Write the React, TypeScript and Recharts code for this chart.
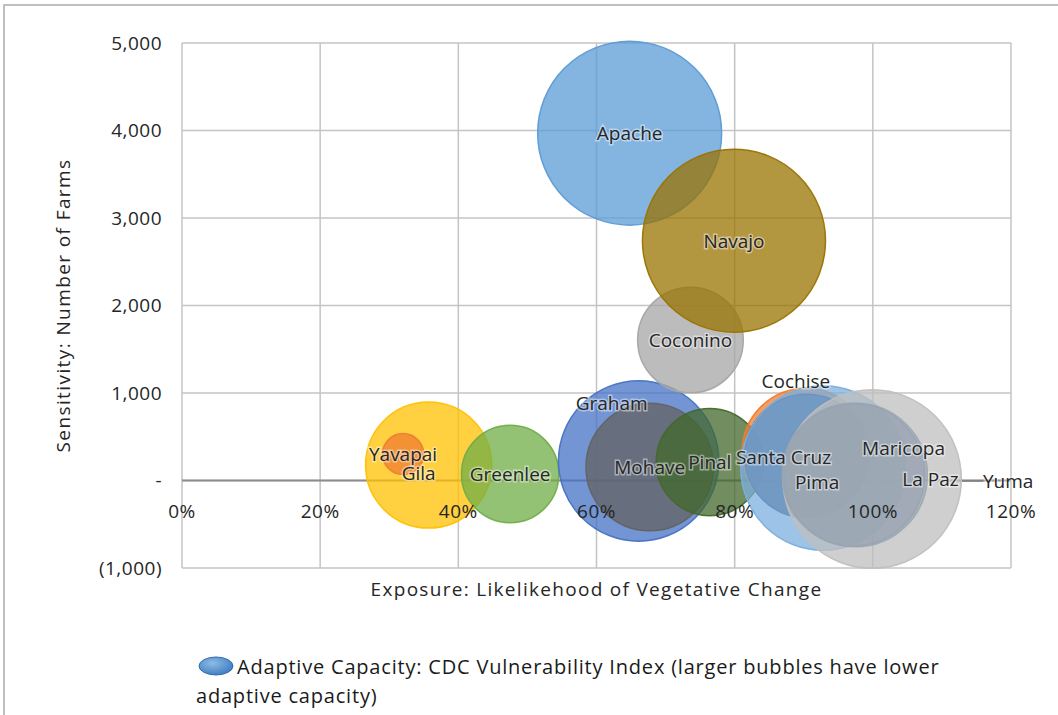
import {
  ScatterChart,
  Scatter,
  XAxis,
  YAxis,
  ZAxis,
  CartesianGrid,
  ReferenceLine,
  Cell,
  LabelList,
} from "recharts";

// drawing order matters: later bubbles sit on top
const counties = [
  "Apache", "Gila", "Yavapai", "Greenlee", "Graham", "Mohave", "Coconino", "Navajo",
  "Pinal", "Cochise", "Santa Cruz", "Pima", "Yuma", "La Paz", "Maricopa",
];
const exposure = [0.648, 0.357, 0.32, 0.475, 0.661, 0.677, 0.736, 0.799, 0.764, 0.903, 0.904, 0.928, 0.999, 0.972, 0.975];
const farms = [3970, 177, 303, 74, 223, 154, 1606, 2740, 211, 326, 280, 143, 17, 66, 63];
const vulnerability = [1.0, 0.47, 0.05, 0.28, 0.76, 0.48, 0.33, 0.99, 0.34, 0.48, 0.45, 0.8, 0.94, 0.6, 0.61];

const xTicks = [0, 0.2, 0.4, 0.6, 0.8, 1.0, 1.2];
const yTicks = [-1000, 0, 1000, 2000, 3000, 4000, 5000];

const COLORS: Record<string, string> = {
  Apache: "#5B9BD5",
  Gila: "#FFC000",
  Yavapai: "#ED7D31",
  Greenlee: "#70AD47",
  Graham: "#4472C4",
  Mohave: "#636363",
  Coconino: "#A5A5A5",
  Navajo: "#997300",
  Pinal: "#43682B",
  Cochise: "#ED7D31",
  "Santa Cruz": "#264478",
  Pima: "#7CAFDD",
  Yuma: "#BFBFBF",
  "La Paz": "#98A4B0",
  Maricopa: "#98A4B0",
};

const OPACITY: Record<string, number> = {
  "La Paz": 0.6,
  Maricopa: 0.6,
};

// label nudges in px, relative to the bubble centre
const LABEL_NUDGE: Record<string, [number, number]> = {
  Graham: [-27, -58],
  Gila: [-10, 8],
  Cochise: [-10, -71],
  "Santa Cruz": [-23, 1],
  Pima: [-6, 14],
  Maricopa: [48, -27],
  "La Paz": [77, 4],
  Yuma: [136, 2],
};

const data = counties.map((name, i) => ({
  name,
  x: exposure[i],
  y: farms[i],
  z: vulnerability[i],
}));

const FONT = "'Open Sans', sans-serif";
const W = 1058;
const H = 715;
const M_TOP = 43;
const PLOT_H = 525;
const ZERO_Y = M_TOP + (PLOT_H * 5000) / 6000;
const MAX_R = 92;

const fmtY = (v: number) => {
  if (v === 0) return "-";
  const s = Math.abs(v).toLocaleString("en-US");
  return v < 0 ? `(${s})` : s;
};

function Bubble(props: any) {
  const { cx, cy, fill, payload } = props;
  const r = props.size != null ? Math.sqrt(props.size / Math.PI) : props.width / 2;
  const op = OPACITY[payload?.name] ?? 0.75;
  return (
    <circle
      cx={cx}
      cy={cy}
      r={r}
      fill={fill}
      fillOpacity={op}
      stroke={fill}
      strokeOpacity={Math.min(1, op + 0.2)}
      strokeWidth={1.5}
    />
  );
}

function BubbleLabel(props: any) {
  const { x, y, width, height, value } = props;
  const cx = x + (width || 0) / 2;
  const cy = y + (height || 0) / 2;
  const [dx, dy] = LABEL_NUDGE[value] || [0, 0];
  const tx = cx + dx;
  const ty = cy + dy;
  return (
    <g>
      {value === "Yuma" && (
        <line x1={cx + 90} y1={ty} x2={tx - 25} y2={ty} stroke="#7f7f7f" strokeWidth={1.5} />
      )}
      <text
        x={tx}
        y={ty}
        textAnchor="middle"
        dominantBaseline="central"
        fontFamily={FONT}
        fontSize={19}
        fill="#262626"
        stroke="#ffffff"
        strokeOpacity={0.45}
        strokeWidth={3}
        paintOrder="stroke"
      >
        {value}
      </text>
    </g>
  );
}

function XTick(props: any) {
  const { x, payload } = props;
  return (
    <text
      x={x}
      y={ZERO_Y + 30}
      textAnchor="middle"
      dominantBaseline="central"
      fontFamily={FONT}
      fontSize={19}
      letterSpacing={0.5}
      fill="#262626"
    >
      {`${Math.round(payload.value * 100)}%`}
    </text>
  );
}

export default function App() {
  return (
    <div style={{ position: "absolute", left: 0, top: 0, width: W, height: H, background: "#fff", overflow: "hidden" }}>
      <div
        style={{
          position: "absolute",
          left: 3,
          top: 4,
          width: W - 3,
          height: H - 4,
          borderLeft: "2px solid #BFBFBF",
          borderTop: "2px solid #BFBFBF",
          boxSizing: "border-box",
        }}
      />
      <ScatterChart
        width={W}
        height={H}
        margin={{ top: M_TOP, right: 47, bottom: 0, left: 0 }}
        style={{ position: "absolute", left: 0, top: 0 }}
      >
        <CartesianGrid stroke="#C4C4C4" strokeWidth={1.5} />
        <YAxis
          type="number"
          dataKey="y"
          width={182}
          domain={[-1000, 5000]}
          ticks={yTicks}
          tickFormatter={fmtY}
          axisLine={false}
          tickLine={false}
          tickMargin={14}
          tick={{ fill: "#262626", fontSize: 19, fontFamily: FONT, letterSpacing: 0.5 }}
          label={{
            content: (p: any) => {
              const vb = p.viewBox;
              const cx = vb.x + 63;
              const cy = vb.y + vb.height / 2;
              return (
                <text
                  transform={`translate(${cx},${cy}) rotate(-90)`}
                  textAnchor="middle"
                  dominantBaseline="central"
                  fontFamily={FONT}
                  fontSize={19}
                  letterSpacing={1.4}
                  fill="#262626"
                >
                  Sensitivity: Number of Farms
                </text>
              );
            },
          }}
        />
        <ZAxis type="number" dataKey="z" domain={[0, 1]} range={[0, Math.PI * MAX_R * MAX_R]} />
        <ReferenceLine y={0} stroke="#8C8C8C" strokeWidth={2} />
        <Scatter data={data} isAnimationActive={false} shape={<Bubble />}>
          {data.map((d) => (
            <Cell key={d.name} fill={COLORS[d.name]} />
          ))}
          <LabelList dataKey="name" content={<BubbleLabel />} />
        </Scatter>
        <XAxis
          type="number"
          dataKey="x"
          height={147}
          domain={[0, 1.2]}
          ticks={xTicks}
          axisLine={false}
          tickLine={false}
          tick={<XTick />}
          label={{
            content: (p: any) => {
              const vb = p.viewBox;
              return (
                <text
                  x={vb.x + vb.width / 2}
                  y={vb.y + 21}
                  textAnchor="middle"
                  dominantBaseline="central"
                  fontFamily={FONT}
                  fontSize={19}
                  letterSpacing={1.3}
                  fill="#262626"
                >
                  Exposure: Likelikehood of Vegetative Change
                </text>
              );
            },
          }}
        />
      </ScatterChart>
      <div
        style={{
          position: "absolute",
          left: 196,
          top: 652,
          width: 820,
          fontFamily: FONT,
          fontSize: 20,
          letterSpacing: 0.8,
          lineHeight: "29px",
          color: "#1a1a1a",
          whiteSpace: "nowrap",
        }}
      >
        <svg width={38} height={22} style={{ position: "absolute", left: 1, top: 3 }}>
          <defs>
            <radialGradient id="lg" cx="40%" cy="35%" r="70%">
              <stop offset="0%" stopColor="#8DBBE6" />
              <stop offset="100%" stopColor="#3C7CC0" />
            </radialGradient>
          </defs>
          <ellipse cx={19} cy={11} rx={17} ry={9} fill="url(#lg)" stroke="#2E6AAE" strokeWidth={1} />
        </svg>
        <span style={{ paddingLeft: 41 }}>
          Adaptive Capacity: CDC Vulnerability Index (larger bubbles have lower
        </span>
        <br />
        adaptive capacity)
      </div>
    </div>
  );
}
